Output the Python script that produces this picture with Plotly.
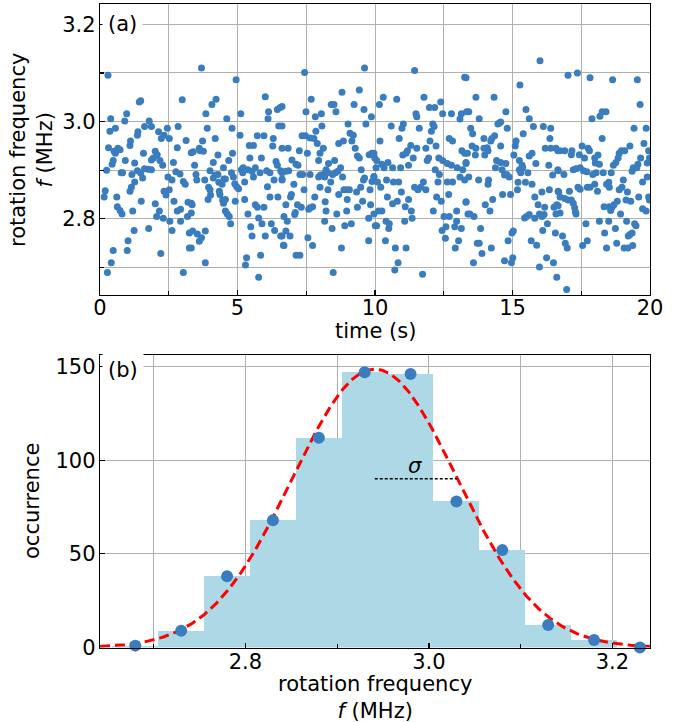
import plotly.graph_objects as go
import numpy as np

# ---------------- data ----------------
# panel (a): (time [s], rotation frequency [MHz]) samples, read in time slices
slice_0_3s = [(0.29,3.095),(1.48,3.043),(1.43,3.040),(2.99,3.045),(0.39,3.006),(0.97,3.016),(0.90,3.001),(0.36,2.980),(0.56,2.986),(1.79,3.001),(1.87,2.990),(1.62,2.990),(1.38,2.979),(1.36,2.972),(2.13,2.979),(2.45,2.986),(2.33,2.972),(2.23,2.965),(2.52,2.965),(2.84,2.990),(3.13,2.961),(1.11,2.960),(1.09,2.951),(0.31,2.946),(0.65,2.945),(0.73,2.942),(0.51,2.939),(0.56,2.935),(0.48,2.920),(0.44,2.912),(0.92,2.920),(1.26,2.915),(1.58,2.935),(2.01,2.939),(2.08,2.932),(1.94,2.925),(1.87,2.921),(2.18,2.920),(2.28,2.910),(2.67,2.916),(2.81,2.946),(3.32,2.936),(0.24,2.900),(0.82,2.895),(0.77,2.895),(1.16,2.891),(1.36,2.899),(1.48,2.894),(1.62,2.903),(1.75,2.902),(1.87,2.901),(1.55,2.884),(1.26,2.876),(1.14,2.865),(1.09,2.857),(0.19,2.858),(0.15,2.845),(2.47,2.886),(2.62,2.880),(2.76,2.897),(2.91,2.892),(3.03,2.877),(3.10,2.871),(2.33,2.857),(2.40,2.849),(2.52,2.860),(2.69,2.836),(2.81,2.816),(2.93,2.820),(3.20,2.834),(3.35,2.829),(0.61,2.845),(0.63,2.825),(0.73,2.817),(0.80,2.810),(1.19,2.816),(1.50,2.836),(2.01,2.831),(2.16,2.816),(2.06,2.805),(2.30,2.801),(2.54,2.795),(2.62,2.776),(2.93,2.795),(3.18,2.805),(3.25,2.771),(1.77,2.780),(1.24,2.776),(1.02,2.755),(0.99,2.735),(0.48,2.735),(0.41,2.710),(0.27,2.690),(2.21,2.729),(3.03,2.690),(3.25,2.740)]
slice_3_7s = [(3.69,3.110),(4.95,3.086),(4.07,3.035),(4.22,3.046),(3.85,3.016),(4.61,3.006),(5.12,3.016),(6.01,3.051),(6.13,3.020),(6.11,3.006),(6.45,3.025),(6.55,3.029),(6.50,2.991),(3.90,2.986),(4.80,2.986),(4.19,2.965),(5.09,2.972),(5.72,2.971),(5.96,2.971),(6.30,2.965),(6.28,2.950),(3.73,2.960),(3.61,2.945),(3.39,2.938),(3.76,2.939),(3.64,2.940),(5.43,2.951),(5.58,2.951),(4.29,2.931),(4.82,2.935),(5.45,2.925),(5.87,2.925),(3.44,2.910),(4.12,2.916),(4.68,2.920),(4.49,2.905),(6.40,2.918),(6.45,2.910),(3.49,2.891),(3.52,2.880),(3.81,2.880),(4.00,2.899),(4.19,2.890),(4.12,2.884),(4.29,2.891),(4.51,2.882),(4.56,2.882),(4.78,2.895),(4.85,2.886),(5.14,2.901),(5.21,2.905),(5.19,2.895),(5.38,2.901),(5.26,2.876),(5.53,2.898),(5.65,2.905),(5.58,2.886),(5.82,2.895),(6.06,2.899),(6.18,2.895),(6.33,2.880),(6.57,2.899),(6.62,2.880),(3.95,2.865),(4.00,2.860),(3.93,2.840),(4.02,2.849),(4.32,2.875),(4.34,2.857),(4.44,2.871),(4.36,2.850),(4.56,2.840),(4.49,2.832),(4.46,2.838),(4.90,2.872),(4.97,2.866),(5.04,2.862),(4.92,2.836),(5.26,2.840),(6.09,2.866),(6.18,2.845),(6.47,2.845),(3.32,2.832),(3.32,2.812),(4.56,2.816),(4.63,2.810),(4.70,2.805),(4.75,2.790),(5.38,2.810),(5.65,2.829),(5.72,2.824),(5.96,2.824),(5.77,2.802),(5.89,2.790),(6.23,2.790),(5.48,2.784),(5.53,2.765),(6.01,2.765),(6.35,2.776),(6.57,2.765),(6.67,2.746),(3.37,2.775),(3.54,2.769),(3.83,2.775),(3.69,2.761),(3.61,2.754),(3.32,2.740),(3.83,2.710),(5.33,2.720),(5.29,2.705),(5.84,2.725),(5.77,2.680)]
slice_7_10s = [(7.44,3.101),(9.62,3.110),(8.80,3.060),(9.43,3.065),(7.68,3.046),(8.41,3.035),(8.51,3.035),(9.24,3.035),(9.60,3.025),(7.49,3.020),(8.58,3.020),(7.83,3.010),(8.05,3.016),(9.87,3.010),(9.02,2.995),(9.67,2.995),(8.07,2.991),(7.85,2.980),(7.35,2.971),(7.47,2.971),(7.64,2.966),(7.78,2.965),(7.90,2.955),(9.09,2.976),(9.21,2.972),(9.16,2.960),(9.28,2.945),(8.68,2.955),(8.85,2.960),(6.84,2.945),(7.25,2.940),(7.54,2.935),(8.00,2.935),(8.12,2.945),(9.36,2.929),(9.43,2.925),(9.79,2.932),(9.89,2.935),(9.99,2.925),(6.62,3.031),(6.62,2.991),(6.62,2.945),(6.98,2.921),(7.13,2.912),(7.20,2.910),(7.95,2.920),(8.53,2.920),(8.31,2.914),(8.75,2.905),(6.76,2.898),(6.86,2.899),(6.62,2.895),(8.22,2.901),(8.29,2.895),(8.12,2.891),(8.46,2.891),(8.56,2.895),(8.65,2.898),(7.27,2.891),(7.37,2.891),(7.64,2.891),(7.95,2.886),(8.02,2.890),(8.17,2.886),(8.82,2.886),(9.50,2.901),(9.62,2.884),(9.58,2.880),(9.96,2.887),(9.89,2.877),(6.62,2.882),(7.05,2.871),(7.42,2.860),(8.00,2.865),(8.29,2.860),(8.39,2.876),(8.68,2.850),(8.87,2.860),(8.97,2.860),(9.07,2.860),(8.99,2.840),(9.48,2.865),(9.33,2.855),(9.82,2.860),(6.96,2.850),(6.93,2.845),(7.81,2.845),(8.19,2.835),(9.55,2.836),(9.84,2.829),(6.76,2.829),(7.18,2.829),(7.32,2.824),(7.64,2.823),(7.73,2.825),(7.59,2.820),(8.22,2.816),(8.61,2.810),(8.97,2.816),(9.36,2.824),(7.10,2.813),(7.08,2.809),(6.69,2.805),(6.81,2.795),(8.17,2.795),(8.44,2.780),(8.90,2.786),(9.14,2.790),(9.77,2.801),(10.01,2.786),(6.62,2.765),(6.76,2.775),(6.91,2.765),(6.69,2.745),(7.56,2.761),(7.73,2.745),(8.78,2.740),(9.77,2.755),(7.13,2.725),(7.27,2.725),(8.48,2.690)]
slice_10_13s = [(11.44,3.105),(13.26,3.091),(10.30,3.050),(10.16,3.035),(10.79,3.046),(11.78,3.050),(11.98,3.029),(12.17,3.029),(12.39,3.040),(11.49,3.016),(11.52,3.010),(12.46,3.016),(12.78,3.016),(13.14,3.016),(13.09,3.005),(13.33,3.020),(10.59,2.991),(11.03,2.995),(10.98,2.986),(11.61,2.986),(12.10,2.995),(12.05,2.980),(12.15,2.990),(10.18,2.960),(10.88,2.965),(12.00,2.960),(12.22,2.950),(11.30,2.951),(11.18,2.940),(11.13,2.935),(11.52,2.945),(11.85,2.945),(11.01,2.931),(11.39,2.925),(11.22,2.910),(11.90,2.920),(11.95,2.925),(12.32,2.925),(12.46,2.920),(12.63,2.914),(12.78,2.910),(12.70,2.965),(12.82,2.960),(13.16,2.940),(13.26,2.935),(13.31,2.914),(9.96,2.935),(10.06,2.920),(10.25,2.912),(10.47,2.916),(10.33,2.905),(10.64,2.905),(10.93,2.905),(10.04,2.905),(12.99,2.905),(13.19,2.901),(12.19,2.901),(12.34,2.891),(9.96,2.886),(10.09,2.876),(10.21,2.865),(10.42,2.880),(10.67,2.876),(10.86,2.876),(11.44,2.865),(11.56,2.860),(11.76,2.876),(11.85,2.860),(11.66,2.865),(12.29,2.876),(12.63,2.876),(12.82,2.876),(13.09,2.886),(13.26,2.880),(10.96,2.855),(10.45,2.845),(10.81,2.836),(10.64,2.831),(11.22,2.840),(11.10,2.825),(11.32,2.816),(11.35,2.801),(12.24,2.845),(12.41,2.836),(12.68,2.850),(12.12,2.816),(12.97,2.816),(13.31,2.834),(13.38,2.810),(9.96,2.810),(10.06,2.786),(10.13,2.816),(10.25,2.816),(10.40,2.795),(10.52,2.790),(10.50,2.780),(11.08,2.795),(12.51,2.805),(12.70,2.805),(12.97,2.795),(12.58,2.784),(12.90,2.784),(13.14,2.780),(12.44,2.776),(12.56,2.760),(10.38,2.755),(10.74,2.740),(11.13,2.740),(13.04,2.755),(12.92,2.740),(10.84,2.710),(10.72,2.695),(11.73,2.686)]
slice_13_17s = [(16.00,3.125),(13.31,3.090),(15.27,3.075),(13.67,3.050),(14.33,3.050),(13.41,3.020),(13.79,3.006),(14.76,3.020),(15.49,3.025),(15.61,3.006),(14.47,2.995),(14.57,2.999),(14.52,2.997),(14.81,2.986),(13.48,2.986),(13.55,2.975),(15.76,2.990),(16.12,2.990),(16.39,2.986),(15.39,2.975),(16.36,2.965),(13.96,2.965),(14.25,2.965),(14.35,2.971),(14.21,2.960),(14.57,2.950),(15.13,2.960),(15.10,2.950),(13.53,2.950),(13.67,2.945),(13.96,2.945),(14.08,2.946),(14.11,2.940),(13.99,2.931),(13.65,2.931),(13.36,2.935),(15.05,2.931),(15.61,2.929),(15.71,2.935),(16.19,2.945),(16.39,2.945),(16.58,2.945),(16.65,2.940),(14.42,2.920),(14.57,2.916),(14.76,2.914),(15.25,2.920),(15.35,2.910),(15.85,2.914),(16.32,2.910),(16.65,2.901),(16.46,2.890),(13.31,2.916),(14.38,2.905),(14.62,2.901),(14.71,2.890),(14.79,2.891),(14.88,2.886),(15.25,2.901),(15.30,2.895),(15.37,2.905),(15.56,2.895),(13.41,2.886),(13.77,2.880),(14.13,2.880),(14.11,2.871),(15.20,2.875),(15.47,2.875),(15.71,2.871),(15.18,2.860),(16.68,2.855),(13.31,2.835),(14.64,2.850),(14.93,2.850),(16.07,2.855),(16.34,2.860),(15.81,2.845),(15.93,2.829),(16.17,2.824),(16.51,2.824),(16.61,2.829),(14.28,2.840),(14.01,2.829),(14.18,2.816),(13.45,2.810),(13.60,2.805),(15.44,2.802),(15.51,2.805),(15.61,2.809),(15.81,2.801),(15.98,2.810),(16.07,2.805),(16.15,2.809),(16.58,2.810),(16.27,2.790),(13.84,2.780),(16.10,2.776),(16.56,2.771),(15.03,2.775),(14.98,2.771),(14.84,2.755),(13.72,2.750),(13.79,2.750),(14.23,2.740),(13.89,2.729),(15.68,2.755),(15.88,2.746),(14.71,2.714),(15.01,2.720),(14.96,2.710),(13.58,2.710),(16.24,2.720),(16.49,2.710),(15.98,2.701),(16.61,2.680)]
slice_17_20s = [(17.02,3.095),(17.36,3.100),(17.82,3.090),(18.64,3.086),(19.54,3.086),(19.64,3.035),(17.89,3.006),(18.18,3.011),(18.26,3.020),(18.40,3.020),(19.42,2.986),(19.86,2.986),(18.26,2.965),(19.78,2.955),(19.27,2.950),(17.53,2.950),(17.75,2.945),(17.80,2.940),(16.73,2.940),(16.90,2.940),(17.16,2.940),(17.14,2.932),(17.43,2.932),(17.62,2.925),(17.99,2.925),(18.11,2.931),(18.01,2.915),(18.16,2.912),(18.96,2.940),(19.08,2.940),(18.88,2.935),(18.84,2.925),(18.76,2.916),(18.67,2.910),(19.66,2.925),(19.95,2.940),(19.98,2.925),(19.90,2.915),(19.56,2.912),(19.52,2.905),(19.39,2.905),(19.35,2.898),(16.66,2.899),(16.87,2.891),(17.21,2.901),(17.31,2.903),(17.46,2.905),(17.58,2.899),(17.70,2.897),(17.92,2.891),(18.04,2.895),(18.30,2.895),(18.59,2.895),(19.03,2.880),(19.73,2.876),(19.90,2.886),(16.66,2.857),(17.07,2.857),(16.73,2.845),(16.90,2.842),(17.02,2.839),(17.14,2.839),(17.21,2.832),(17.26,2.823),(17.29,2.814),(17.31,2.810),(16.66,2.827),(16.73,2.812),(17.38,2.865),(17.46,2.861),(17.72,2.865),(17.82,2.865),(17.99,2.871),(18.09,2.857),(18.42,2.871),(18.50,2.875),(18.52,2.865),(18.88,2.860),(18.98,2.865),(19.18,2.855),(19.13,2.839),(19.30,2.836),(19.59,2.845),(19.95,2.845),(19.98,2.839),(18.52,2.825),(18.62,2.824),(18.33,2.825),(18.57,2.817),(18.69,2.829),(18.81,2.836),(18.93,2.810),(19.73,2.821),(19.86,2.816),(17.67,2.790),(18.16,2.795),(18.50,2.795),(18.35,2.771),(18.74,2.780),(19.15,2.795),(19.44,2.790),(19.49,2.786),(19.35,2.771),(19.21,2.765),(19.27,2.768),(16.82,2.765),(16.92,2.750),(16.99,2.740),(17.55,2.745),(17.72,2.755),(18.42,2.740),(18.79,2.750),(19.06,2.740),(19.20,2.740),(19.37,2.745),(16.97,2.655)]

samples = slice_0_3s + slice_3_7s + slice_7_10s + slice_10_13s + slice_13_17s + slice_17_20s
time_s = [p[0] for p in samples]
freq_mhz = [p[1] for p in samples]

# panel (b): histogram of the frequencies
bin_centers = [2.68, 2.73, 2.78, 2.83, 2.88, 2.93, 2.98, 3.03, 3.08, 3.13, 3.18, 3.23]
bin_counts = [1, 9, 38, 68, 112, 147, 146, 78, 52, 12, 4, 0]
bin_width = 0.05

# Gaussian fit parameters
fit_amp = 148.6
fit_mu = 2.941
fit_sigma = 0.090

f_range = [2.6415, 3.241]
x_ticks_a = [0, 5, 10, 15, 20]
x_minor_a = [2.5, 7.5, 12.5, 17.5]
f_ticks = [2.8, 3.0, 3.2]
f_minor = [2.7, 2.9, 3.1]
occ_ticks = [0, 50, 100, 150]

# ---------------- figure ----------------
W, H = 685, 722
BLUE = "#3a7dbf"
GRID = "#b0b0b0"
FONT = "DejaVu Sans"
FS = 21

def px_x(p):
    return p / W

def px_y(p):
    return 1 - p / H

fig = go.Figure()

fig.add_trace(go.Scatter(x=time_s, y=freq_mhz, mode="markers",
                         marker=dict(size=7, color=BLUE, line=dict(width=0)),
                         xaxis="x", yaxis="y", showlegend=False, cliponaxis=True))

fig.add_trace(go.Bar(x=bin_centers, y=bin_counts, width=bin_width,
                     marker=dict(color="#add8e6", line=dict(width=0)),
                     xaxis="x2", yaxis="y2", showlegend=False))

xf = np.linspace(f_range[0], f_range[1], 400)
yf = fit_amp * np.exp(-(xf - fit_mu) ** 2 / (2 * fit_sigma ** 2))
fig.add_trace(go.Scatter(x=xf, y=yf, mode="lines",
                         line=dict(color="#ff0000", width=3, dash="10px,5px"),
                         xaxis="x2", yaxis="y2", showlegend=False))

fig.add_trace(go.Scatter(x=bin_centers, y=bin_counts, mode="markers",
                         marker=dict(size=12, color=BLUE, line=dict(width=0)),
                         xaxis="x2", yaxis="y2", showlegend=False, cliponaxis=False))

sig_y = fit_amp * np.exp(-0.5)
fig.add_trace(go.Scatter(x=[fit_mu, fit_mu + fit_sigma], y=[sig_y, sig_y], mode="lines",
                         line=dict(color="black", width=1.5, dash="3px,2px"),
                         xaxis="x2", yaxis="y2", showlegend=False))

axis_common = dict(showline=True, linecolor="black", linewidth=1.2, mirror=True,
                   ticks="inside", ticklen=5, tickwidth=1.2, tickcolor="black",
                   showgrid=True, gridcolor=GRID, gridwidth=1, zeroline=False,
                   automargin=False,
                   tickfont=dict(family=FONT, size=FS, color="black"))

minor_common = dict(ticks="inside", ticklen=4, tickcolor="black",
                    showgrid=True, gridcolor=GRID, gridwidth=1)

xdom = [px_x(100), px_x(650)]
fig.update_layout(
    width=W, height=H,
    margin=dict(l=0, r=0, t=0, b=0, pad=0, autoexpand=False),
    paper_bgcolor="white", plot_bgcolor="white",
    xaxis=dict(domain=xdom, range=[0, 20], anchor="y", tickmode="array",
               tickvals=x_ticks_a, ticklabelstandoff=-6,
               minor=dict(tickvals=x_minor_a, **minor_common),
               **axis_common),
    yaxis=dict(domain=[px_y(295), px_y(4.3)], range=[2.6435, 3.241], anchor="x",
               tickmode="array", tickvals=f_ticks, ticktext=["2.8", "3.0", "3.2"],
               ticklabelstandoff=-1,
               minor=dict(tickvals=f_minor, **minor_common),
               **axis_common),
    xaxis2=dict(domain=xdom, range=f_range, anchor="y2", tickmode="array",
                tickvals=f_ticks, ticktext=["2.8", "3.0", "3.2"], ticklabelstandoff=-5,
                minor=dict(tickvals=f_minor, **minor_common),
                **axis_common),
    yaxis2=dict(domain=[px_y(647.5), px_y(355)], range=[0, 156.2], anchor="x2",
                tickmode="array", tickvals=occ_ticks, ticklabelstandoff=-1,
                **axis_common),
    bargap=0,
)

ann_font = dict(family=FONT, size=FS, color="black")
annotations = [
    dict(text="(a)", x=px_x(102), y=px_y(24.3), xanchor="left", yanchor="middle",
         bgcolor="white", borderpad=5),
    dict(text="(b)", x=px_x(102), y=px_y(370), xanchor="left", yanchor="middle",
         bgcolor="white", borderpad=5),
    dict(text="rotation frequency<br><i>f</i> (MHz)", x=px_x(31), y=px_y(150),
         textangle=-90, xanchor="center", yanchor="middle"),
    dict(text="time (s)", x=px_x(375), y=px_y(331), xanchor="center", yanchor="middle"),
    dict(text="occurrence", x=px_x(32), y=px_y(501), textangle=-90,
         xanchor="center", yanchor="middle"),
    dict(text="rotation frequency<br><i>f</i> (MHz)", x=px_x(375), y=px_y(697.5),
         xanchor="center", yanchor="middle"),
]
for a in annotations:
    a.update(xref="paper", yref="paper", showarrow=False, font=ann_font)
fig.update_layout(annotations=annotations)

fig.add_annotation(text="<i>σ</i>", x=2.985, y=97, xref="x2", yref="y2",
                   showarrow=False, font=ann_font, xanchor="center", yanchor="middle")

fig.write_html("out.html", config={"displayModeBar": False, "staticPlot": True},
               post_script="document.body.style.margin='0px';document.body.style.overflow='hidden';")
